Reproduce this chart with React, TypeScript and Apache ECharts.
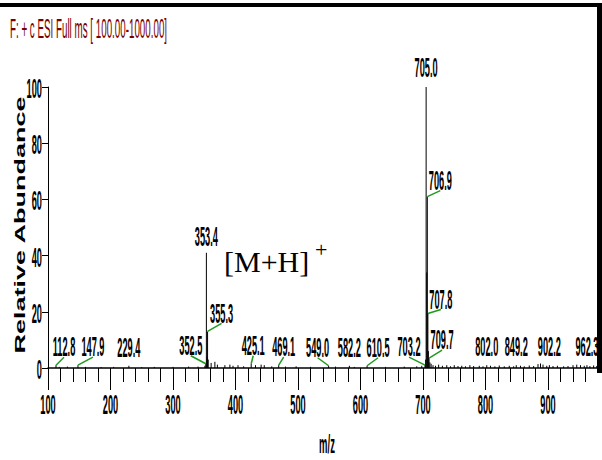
import React, { useEffect, useRef } from "react";
import * as echarts from "echarts";

// ---- data ----
const peakLabels = ["112.8", "147.9", "229.4", "352.5", "353.4", "355.3", "425.1", "469.1", "549.0", "582.2", "610.5", "703.2", "705.0", "706.9", "707.8", "709.7", "802.0", "849.2", "902.2", "962.3"];
const peakMz = [112.8, 147.9, 229.4, 352.5, 353.4, 355.3, 425.1, 469.1, 549.0, 582.2, 610.5, 703.2, 705.0, 706.9, 707.8, 709.7, 802.0, 849.2, 902.2, 962.3];
const peakAbundance = [1.0, 1.0, 0.8, 1.5, 41, 13, 1.5, 1.0, 0.8, 0.8, 0.8, 1.0, 100, 61, 19.4, 3.5, 1.0, 1.0, 1.0, 1.0];

const minorMz = [118, 131, 160, 185, 205, 250, 270, 300, 325, 340, 351, 354.4, 356.3, 361, 367, 371, 383, 391, 396, 404, 413, 432, 441, 446, 458, 480, 497, 520, 560, 590, 640, 670, 690, 698, 704.2, 706.0, 708.6, 711, 713, 716, 720, 725, 731, 738, 744, 750, 756, 762, 768, 775, 781, 790, 796, 808, 815, 822, 830, 838, 845, 856, 862, 870, 877, 884, 888, 892, 898, 908, 915, 925, 932, 940, 946, 952, 958, 967, 973, 978];
const minorAbundance = [0.4, 0.5, 0.4, 0.3, 0.4, 0.3, 0.4, 0.4, 0.5, 0.5, 0.8, 4, 3, 1.8, 2.2, 1.2, 1, 1.2, 0.8, 1, 0.6, 1, 1.2, 1, 0.6, 0.5, 0.6, 0.4, 0.5, 0.4, 0.4, 0.5, 0.6, 0.8, 3, 34, 6, 2, 1.5, 1, 0.8, 1.2, 0.8, 1, 0.6, 1, 0.7, 0.8, 0.6, 1, 0.7, 0.8, 0.6, 0.8, 0.6, 0.9, 0.6, 0.8, 0.6, 0.8, 0.6, 0.9, 0.7, 1.4, 1.6, 1.2, 0.8, 0.7, 0.8, 0.6, 0.7, 1, 1.2, 1, 0.8, 0.7, 0.9, 0.7];

const xTickValues = [100, 200, 300, 400, 500, 600, 700, 800, 900];
const xMinorTickValues = [120, 140, 160, 180, 220, 240, 260, 280, 320, 340, 360, 380, 420, 440, 460, 480, 520, 540, 560, 580, 620, 640, 660, 680, 720, 740, 760, 780, 820, 840, 860, 880, 920, 940, 960];
const yTickValues = [0, 20, 40, 60, 80, 100];

// label placement (pixel offsets of label centre from peak top)
const labelOffsets: [number, number][] = [
  [8, -19], [15, -19], [0, -19], [-15, -19], [0, -17], [14, -19], [2, -19], [5, -19], [-11, -19], [0, -19],
  [11, -19], [-16, -19], [0, -20], [13, -17], [13, -15], [13, -19], [0, -19], [0, -19], [0, -19], [0, -19],
];

const NARROW = "'Liberation Sans', Arial, sans-serif";
const LABEL_SIZE = 28;
const LABEL_SCALE = 0.33;

export default function App() {
  const ref = useRef<HTMLDivElement>(null);
  useEffect(() => {
    if (!ref.current) return;
    const chart = echarts.init(ref.current, null, { renderer: "svg" });
    const sticks = peakMz.map((m, i) => [m, peakAbundance[i]]).concat(minorMz.map((m, i) => [m, minorAbundance[i]]));
    const textStyle = (text: string, align: string) => ({
      text,
      fontFamily: NARROW,
      fontSize: LABEL_SIZE,
      fontWeight: "bold",
      fill: "#000",
      align,
      verticalAlign: "middle",
    });
    chart.setOption({
      animation: false,
      grid: { left: 48, top: 87, right: 4, bottom: 92, outerBoundsMode: "none" },
      xAxis: [
        {
          type: "value", min: 100, max: 980, interval: 100,
          axisLine: { show: true, lineStyle: { color: "#000", width: 1.5 } },
          axisTick: { show: true, length: 22, customValues: xTickValues, lineStyle: { color: "#000", width: 1 } },
          axisLabel: { show: false },
          splitLine: { show: false },
        },
        {
          type: "value", min: 100, max: 980, position: "bottom",
          axisLine: { show: false },
          axisTick: { show: true, length: 14, customValues: xMinorTickValues, lineStyle: { color: "#000", width: 1 } },
          axisLabel: { show: false },
          splitLine: { show: false },
        },
      ],
      yAxis: {
        type: "value", min: 0, max: 100, interval: 20,
        axisLine: { show: true, lineStyle: { color: "#000", width: 1 } },
        axisTick: { show: true, length: 6, lineStyle: { color: "#000" } },
        axisLabel: { show: false },
        splitLine: { show: false },
      },
      series: [
        {
          type: "custom", name: "spectrum", silent: true, clip: false,
          data: sticks,
          renderItem: (_p: any, api: any) => {
            const a = api.coord([api.value(0), 0]);
            const b = api.coord([api.value(0), api.value(1)]);
            return { type: "line", shape: { x1: a[0], y1: a[1], x2: b[0], y2: b[1] }, style: { stroke: "#000", lineWidth: 1 } };
          },
        },
        {
          type: "custom", name: "peakLabels", silent: true, clip: false,
          data: peakMz.map((m, i) => [m, peakAbundance[i], i]),
          renderItem: (_p: any, api: any) => {
            const i = api.value(2);
            const top = api.coord([api.value(0), api.value(1)]);
            const [dx, dy] = labelOffsets[i];
            const children: any[] = [];
            if (dx !== 0) {
              children.push({
                type: "line",
                shape: { x1: top[0], y1: top[1], x2: top[0] + dx, y2: top[1] + dy + 11 },
                style: { stroke: "#1f9a1f", lineWidth: 1.5 },
              });
            }
            children.push({
              type: "text", x: top[0] + dx, y: top[1] + dy, scaleX: LABEL_SCALE,
              style: textStyle(peakLabels[i], "center"),
            });
            return { type: "group", children };
          },
        },
        {
          type: "custom", name: "xTickLabels", silent: true, clip: false,
          data: xTickValues.map((v) => [v, 0]),
          renderItem: (_p: any, api: any) => {
            const p = api.coord([api.value(0), 0]);
            return { type: "text", x: p[0], y: p[1] + 36, scaleX: LABEL_SCALE, style: textStyle(String(api.value(0)), "center") };
          },
        },
        {
          type: "custom", name: "yTickLabels", silent: true, clip: false,
          data: yTickValues.map((v) => [100, v]),
          renderItem: (_p: any, api: any) => {
            const p = api.coord([100, api.value(1)]);
            return { type: "text", x: p[0] - 6, y: p[1] + 1, scaleX: LABEL_SCALE, style: textStyle(String(api.value(1)), "right") };
          },
        },
      ],
      graphic: [
        {
          type: "text", x: 10, y: 28, scaleX: 0.35, z: 10,
          style: { text: "F: + c ESI Full ms [ 100.00-1000.00]", fontFamily: NARROW, fontSize: 28, fill: "#7a0000", align: "left", verticalAlign: "middle" },
        },
        {
          type: "text", x: 20, y: 225, rotation: Math.PI / 2, scaleX: 1.93, z: 10,
          style: { text: "Relative Abundance", fontFamily: NARROW, fontSize: 14, fontWeight: "bold", fill: "#000", align: "center", verticalAlign: "middle" },
        },
        {
          type: "text", x: 327, y: 444, scaleX: 0.38, z: 10,
          style: { text: "m/z", fontFamily: NARROW, fontSize: 25, fontWeight: "bold", fill: "#000", align: "center", verticalAlign: "middle" },
        },
        {
          type: "text", x: 224, y: 261, z: 10,
          style: { text: "[M+H]", fontFamily: "'Liberation Serif', 'Times New Roman', serif", fontSize: 30, fill: "#000", align: "left", verticalAlign: "middle" },
        },
        {
          type: "text", x: 315, y: 249, z: 10,
          style: { text: "+", fontFamily: "'Liberation Serif', 'Times New Roman', serif", fontSize: 22, fill: "#000", align: "left", verticalAlign: "middle" },
        },
        { type: "rect", z: 20, shape: { x: 0, y: 3, width: 602, height: 4 }, style: { fill: "#000" } },
        { type: "rect", z: 20, shape: { x: 597, y: 3, width: 5, height: 370 }, style: { fill: "#000" } },
      ],
    });
    return () => chart.dispose();
  }, []);
  return <div ref={ref} style={{ position: "fixed", left: 0, top: 0, width: 602, height: 460, background: "#fff" }} />;
}
